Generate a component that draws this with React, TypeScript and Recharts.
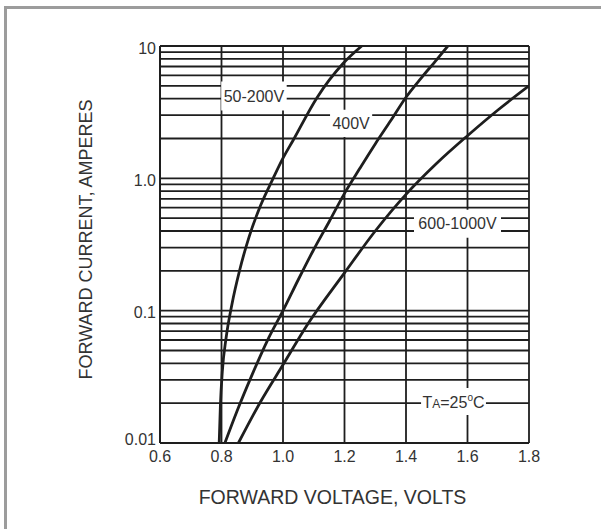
import React from 'react';
import { LineChart, Line, XAxis, YAxis, CartesianGrid, ReferenceArea, Label } from 'recharts';

// forward voltage (V) / forward current (A)
const v50to200 = [0.7925, 0.7964, 0.8026, 0.815, 0.834, 0.859, 0.89, 0.927, 0.968, 1.0, 1.0335, 1.11, 1.196, 1.256];
const i50to200 = [0.01, 0.0192, 0.0346, 0.0624, 0.112, 0.202, 0.363, 0.623, 1.0, 1.42, 1.95, 4.05, 7.4, 10];

const v400 = [0.811, 0.85, 0.9, 0.95, 1.0, 1.05, 1.1, 1.15, 1.2, 1.25, 1.3, 1.35, 1.4, 1.45, 1.5, 1.536];
const i400 = [0.01, 0.0173, 0.033, 0.06, 0.1, 0.172, 0.29, 0.47, 0.77, 1.19, 1.82, 2.72, 4.1, 5.75, 7.9, 10];

const v600to1000 = [0.855, 0.927, 1.0, 1.077, 1.2, 1.3, 1.4, 1.5, 1.6, 1.7, 1.8];
const i600to1000 = [0.01, 0.0205, 0.039, 0.077, 0.193, 0.4, 0.757, 1.3, 2.1, 3.3, 5.0];

const xTicks = [0.6, 0.8, 1.0, 1.2, 1.4, 1.6, 1.8];
const yTicks = [
  0.01, 0.02, 0.03, 0.04, 0.05, 0.06, 0.07, 0.08, 0.09,
  0.1, 0.2, 0.3, 0.4, 0.5, 0.6, 0.7, 0.8, 0.9,
  1, 2, 3, 4, 5, 6, 7, 8, 9, 10,
];
const yTickLabels: Record<string, string> = { '0.01': '0.01', '0.1': '0.1', '1': '1.0', '10': '10' };

const toRows = (vs: number[], is: number[]) => vs.map((v, k) => ({ v, i: is[k] }));

const narrow = '"Liberation Sans Narrow", "Arial Narrow", "Liberation Sans", sans-serif';
const sans = '"Liberation Sans", Arial, sans-serif';
const ink = '#1e1e1e';

function boxText(text: string) {
  return (props: any) => {
    const vb = props.viewBox;
    if (!vb) return null;
    return (
      <text x={vb.x + vb.width / 2} y={vb.y + vb.height / 2} textAnchor="middle" dominantBaseline="central"
        fill="#333" fontSize={16} fontFamily={narrow}>
        {text}
      </text>
    );
  };
}

function TempLabel(props: any) {
  const vb = props.viewBox;
  if (!vb) return null;
  return (
    <text x={vb.x + vb.width / 2} y={vb.y + vb.height / 2 + 6} textAnchor="middle" fill="#333" fontSize={16} fontFamily={narrow}>
      <tspan>T</tspan>
      <tspan fontSize={12}>A</tspan>
      <tspan>=25</tspan>
      <tspan fontSize={10} dy={-7}>o</tspan>
      <tspan dy={7}>C</tspan>
    </text>
  );
}

function YTick(props: any) {
  const { x, y, payload } = props;
  const text = yTickLabels[String(payload.value)];
  if (!text) return null;
  const shift = payload.value === 0.01 ? -4 : 2;
  return (
    <text x={x} y={y + shift} textAnchor="end" dominantBaseline="central" fill="#333" fontSize={16} fontFamily={narrow}>
      {text}
    </text>
  );
}

function YTitle(props: any) {
  const vb = props.viewBox;
  const x = vb.x - 14;
  const y = vb.y + vb.height / 2 - 5;
  return (
    <text x={x} y={y} transform={`rotate(-90, ${x}, ${y})`} textAnchor="middle" dominantBaseline="central"
      fill="#333" fontSize={18} fontFamily={sans}>
      FORWARD CURRENT, AMPERES
    </text>
  );
}

export default function App() {
  return (
    <div style={{ position: 'absolute', left: 0, top: 0, width: 601, height: 529, background: '#fff' }}>
      <div style={{ position: 'absolute', left: 4, top: 6, width: 597, height: 523, borderTop: '3px solid #9c9c9c', borderLeft: '3px solid #9c9c9c' }} />
      <div style={{ position: 'absolute', left: 0, top: 0 }}>
        <LineChart width={601} height={529} margin={{ top: 46, right: 72, bottom: 56, left: 100 }}>
          <CartesianGrid stroke={ink} strokeWidth={1.8} />
          <XAxis
            type="number"
            dataKey="v"
            domain={[0.6, 1.8]}
            ticks={xTicks}
            allowDataOverflow
            height={30}
            tickSize={0}
            tickMargin={8}
            tickFormatter={(v: number) => v.toFixed(1)}
            tick={{ fill: '#333', fontSize: 16, fontFamily: narrow }}
            axisLine={{ stroke: ink, strokeWidth: 2 }}
            tickLine={false}
          >
            <Label value="FORWARD VOLTAGE, VOLTS" position="bottom" offset={17} dx={-12} fill="#333" fontSize={19.5} fontFamily={sans} />
          </XAxis>
          <YAxis
            type="number"
            scale="log"
            domain={[0.01, 10]}
            ticks={yTicks}
            allowDataOverflow
            width={60}
            tickSize={0}
            tickMargin={4}
            interval={0}
            tick={<YTick />}
            axisLine={{ stroke: ink, strokeWidth: 2 }}
            tickLine={false}
          >
            <Label content={YTitle} />
          </YAxis>
          <ReferenceArea x1={0.799} x2={1.012} y1={3.25} y2={5.4} fill="#fff" fillOpacity={1} stroke="none" ifOverflow="visible" label={boxText('50-200V')} />
          <ReferenceArea x1={1.153} x2={1.29} y1={2.05} y2={3.3} fill="#fff" fillOpacity={1} stroke="none" ifOverflow="visible" label={boxText('400V')} />
          <ReferenceArea x1={1.426} x2={1.709} y1={0.355} y2={0.58} fill="#fff" fillOpacity={1} stroke="none" ifOverflow="visible" label={boxText('600-1000V')} />
          <ReferenceArea x1={1.449} x2={1.66} y1={0.0163} y2={0.026} fill="#fff" fillOpacity={1} stroke="none" ifOverflow="visible" label={<TempLabel />} />
          <Line data={toRows(v50to200, i50to200)} dataKey="i" type="monotone" stroke={ink} strokeWidth={2.8} dot={false} isAnimationActive={false} />
          <Line data={toRows(v400, i400)} dataKey="i" type="monotone" stroke={ink} strokeWidth={2.8} dot={false} isAnimationActive={false} />
          <Line data={toRows(v600to1000, i600to1000)} dataKey="i" type="monotone" stroke={ink} strokeWidth={2.8} dot={false} isAnimationActive={false} />
        </LineChart>
      </div>
    </div>
  );
}
